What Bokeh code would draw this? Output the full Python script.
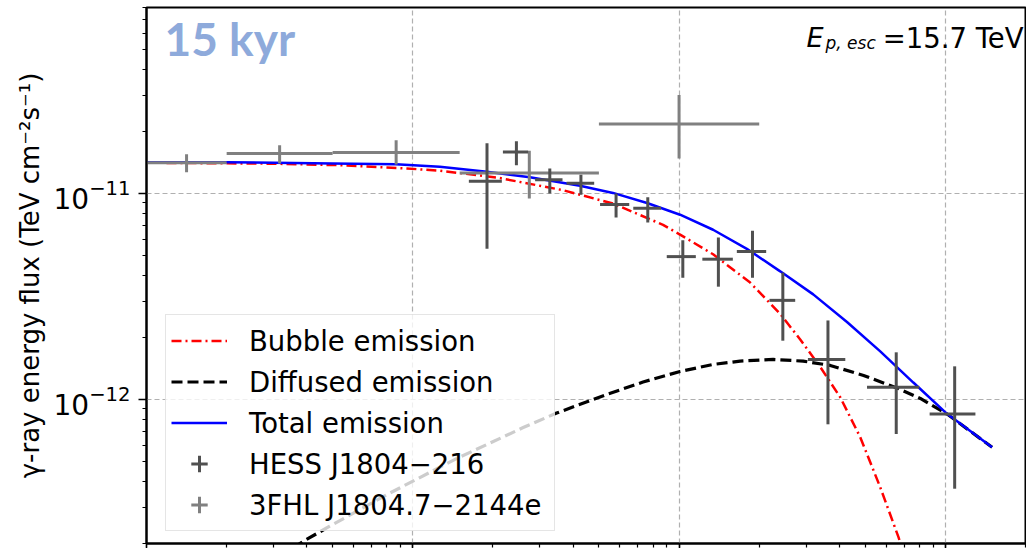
from bokeh.plotting import figure
from bokeh.models import (Range1d, Legend, LegendItem, Label, ColumnDataSource,
                          CustomJSTickFormatter)
from bokeh.embed import file_html
from bokeh.resources import INLINE

# ---- data (energies in TeV, energy flux in TeV cm^-2 s^-1) ----
hess_e = [0.19, 0.245, 0.327, 0.428, 0.58, 0.763, 1.033, 1.405, 1.887, 2.453, 3.624, 6.54, 10.84]
hess_e_lo = [0.1624, 0.218, 0.288, 0.378, 0.505, 0.673, 0.899, 1.223, 1.648, 2.185, 3.047, 5.08, 8.73]
hess_e_hi = [0.216, 0.271, 0.365, 0.48, 0.65, 0.856, 1.156, 1.592, 2.124, 2.73, 4.21, 7.98, 12.97]
hess_f = [1.148e-11, 1.59e-11, 1.166e-11, 1.122e-11, 8.84e-12, 8.48e-12, 4.94e-12, 4.8e-12,
          5.23e-12, 3.03e-12, 1.562e-12, 1.148e-12, 8.51e-13]
hess_f_lo = [5.39e-12, 1.37e-11, 1.0e-11, 9.86e-12, 7.66e-12, 7.24e-12, 3.9e-12, 3.53e-12,
             3.9e-12, 1.93e-12, 7.58e-13, 6.8e-13, 3.69e-13]
hess_f_hi = [1.754e-11, 1.794e-11, 1.324e-11, 1.233e-11, 1.0e-11, 9.6e-12, 5.94e-12, 6.12e-12,
             6.6e-12, 4.13e-12, 2.42e-12, 1.695e-12, 1.449e-12]

fhl_e = [0.01414, 0.03162, 0.0866, 0.2739, 1.0]
fhl_e_lo = [0.01, 0.02, 0.05, 0.15, 0.5]
fhl_e_hi = [0.02, 0.05, 0.15, 0.5, 2.0]
fhl_f = [1.409e-11, 1.565e-11, 1.582e-11, 1.259e-11, 2.173e-11]
fhl_f_lo = [1.269e-11, 1.399e-11, 1.384e-11, 9.46e-12, 1.48e-11]
fhl_f_hi = [1.552e-11, 1.717e-11, 1.816e-11, 1.611e-11, 3.006e-11]

bubble_e = [0.01, 0.02977, 0.05317, 0.09494, 0.1263, 0.2069, 0.3664, 0.5647, 0.8707, 1.0087,
            1.342, 1.849, 2.398, 2.851, 3.389, 4.03, 4.791, 5.696, 6.674, 7.515]
bubble_f = [1.411e-11, 1.396e-11, 1.373e-11, 1.323e-11, 1.291e-11, 1.196e-11, 1.038e-11, 8.94e-12,
            7.05e-12, 6.32e-12, 5.07e-12, 3.697e-12, 2.604e-12, 1.957e-12, 1.439e-12, 1.026e-12,
            6.56e-13, 3.747e-13, 2.141e-13, 1.289e-13]

diffused_e = [0.03162, 0.03859, 0.04875, 0.08193, 0.146, 0.2598, 0.3469, 0.5347, 0.7323, 1.0087,
              1.342, 1.6955, 2.2564, 2.9252, 3.6955, 4.9312, 6.5822, 8.0541, 10.15, 14.98]
diffused_f = [1.725e-13, 2.04e-13, 2.427e-13, 3.512e-13, 5.165e-13, 7.308e-13, 8.598e-13,
              1.057e-12, 1.216e-12, 1.368e-12, 1.48e-12, 1.536e-12, 1.565e-12, 1.536e-12,
              1.464e-12, 1.308e-12, 1.138e-12, 1.012e-12, 8.5e-13, 5.86e-13]

total_e = [0.01, 0.01982, 0.05003, 0.0863, 0.1263, 0.1898, 0.2754, 0.4245, 0.5647, 0.7582, 1.0087,
           1.342, 1.797, 2.398, 3.19, 4.272, 5.696, 7.582, 10.15, 14.98]
total_f = [1.419e-11, 1.419e-11, 1.399e-11, 1.388e-11, 1.35e-11, 1.276e-11, 1.2e-11, 1.091e-11,
           1.007e-11, 8.99e-12, 7.89e-12, 6.67e-12, 5.39e-12, 4.19e-12, 3.24e-12, 2.38e-12,
           1.712e-12, 1.209e-12, 8.52e-13, 5.86e-13]

HESS_COLOR = "#505050"
FHL_COLOR = "#808080"
FONT = "DejaVu Sans"

p = figure(width=1026, height=548, x_axis_type="log", y_axis_type="log",
           x_range=Range1d(0.01, 20), y_range=Range1d(2e-13, 8e-11),
           output_backend="svg", toolbar_location=None,
           min_border_left=146, min_border_right=1, min_border_top=7, min_border_bottom=5)

p.background_fill_color = "white"
p.border_fill_color = "white"
p.outline_line_color = "black"
p.outline_line_width = 2

p.grid.grid_line_color = "#b0b0b0"
p.grid.grid_line_width = 1.2
p.grid.grid_line_dash = "5 3"

# x axis: ticks only, no tick labels in view
p.xaxis.formatter = CustomJSTickFormatter(code="return ''")
p.xaxis.major_label_text_font_size = "1px"
p.xaxis.major_label_standoff = 0
p.xaxis.major_tick_in = 0
p.xaxis.minor_tick_in = 0
p.xaxis.major_tick_out = 5
p.xaxis.minor_tick_out = 4
p.xaxis.axis_line_width = 2
p.xaxis.major_tick_line_width = 1.5
p.xaxis.minor_tick_line_width = 1.2

p.yaxis.axis_label = "γ-ray energy flux (TeV cm⁻²s⁻¹)"
p.yaxis.axis_label_text_font = FONT
p.yaxis.axis_label_text_font_size = "26px"
p.yaxis.axis_label_text_font_style = "normal"
p.yaxis.axis_label_text_color = "black"
p.yaxis.axis_label_standoff = 6
p.yaxis.major_label_text_font = FONT
p.yaxis.major_label_text_font_size = "28px"
p.yaxis.major_label_text_color = "black"
p.yaxis.major_label_standoff = 8
p.yaxis.major_tick_in = 0
p.yaxis.minor_tick_in = 0
p.yaxis.major_tick_out = 8
p.yaxis.minor_tick_out = 4
p.yaxis.axis_line_width = 2
p.yaxis.major_tick_line_width = 1.5
p.yaxis.minor_tick_line_width = 1.2

# model curves
bubble = p.line(bubble_e, bubble_f, line_color="red", line_width=2.5, line_dash="10 4 2 4")
diffused = p.line(diffused_e, diffused_f, line_color="black", line_width=3.2, line_dash="11 5")
total = p.line(total_e, total_f, line_color="blue", line_width=2.5)

# data points with error bars
fhl_src = ColumnDataSource(dict(e=fhl_e, e_lo=fhl_e_lo, e_hi=fhl_e_hi,
                                f=fhl_f, f_lo=fhl_f_lo, f_hi=fhl_f_hi))
hess_src = ColumnDataSource(dict(e=hess_e, e_lo=hess_e_lo, e_hi=hess_e_hi,
                                 f=hess_f, f_lo=hess_f_lo, f_hi=hess_f_hi))
for src, col in ((fhl_src, FHL_COLOR), (hess_src, HESS_COLOR)):
    p.segment(x0="e_lo", y0="f", x1="e_hi", y1="f", source=src, line_color=col, line_width=3)
    p.segment(x0="e", y0="f_lo", x1="e", y1="f_hi", source=src, line_color=col, line_width=3)

# cross markers used as legend symbols for the data sets
hess_mark = p.scatter("e", "f", source=hess_src, marker="cross", size=0.01,
                      line_color=HESS_COLOR, line_width=3)
fhl_mark = p.scatter("e", "f", source=fhl_src, marker="cross", size=0.01,
                     line_color=FHL_COLOR, line_width=3)

legend = Legend(items=[
    LegendItem(label="Bubble emission", renderers=[bubble]),
    LegendItem(label="Diffused emission", renderers=[diffused]),
    LegendItem(label="Total emission", renderers=[total]),
    LegendItem(label="HESS J1804−216", renderers=[hess_mark]),
    LegendItem(label="3FHL J1804.7−2144e", renderers=[fhl_mark]),
], location=(19, 12))
legend.label_text_font = FONT
legend.label_text_font_size = "27.5px"
legend.label_text_color = "black"
legend.glyph_width = 56
legend.glyph_height = 41
legend.label_height = 41
legend.label_width = 300
legend.spacing = 0
legend.padding = 5
legend.label_standoff = 22
legend.background_fill_color = "white"
legend.background_fill_alpha = 0.8
legend.border_line_color = "#cccccc"
legend.border_line_width = 1
p.add_layout(legend)

p.add_layout(Label(x=18, y=505, x_units="screen", y_units="screen", text="15 kyr",
                   text_font="Lato", text_font_style="bold", text_font_size="46px",
                   text_color="#8eaadb", text_baseline="alphabetic"))
p.add_layout(Label(x=660, y=506, x_units="screen", y_units="screen", text="E",
                   text_font=FONT, text_font_style="italic", text_font_size="27px",
                   text_color="black", text_baseline="alphabetic"))
p.add_layout(Label(x=679, y=501, x_units="screen", y_units="screen", text="p, esc",
                   text_font=FONT, text_font_style="italic", text_font_size="17px",
                   text_color="black", text_baseline="alphabetic"))
p.add_layout(Label(x=877, y=506, x_units="screen", y_units="screen", text="=15.7 TeV",
                   text_font=FONT, text_font_size="27.5px", text_align="right",
                   text_color="black", text_baseline="alphabetic"))

open("out.html", "w").write(file_html(p, INLINE))
